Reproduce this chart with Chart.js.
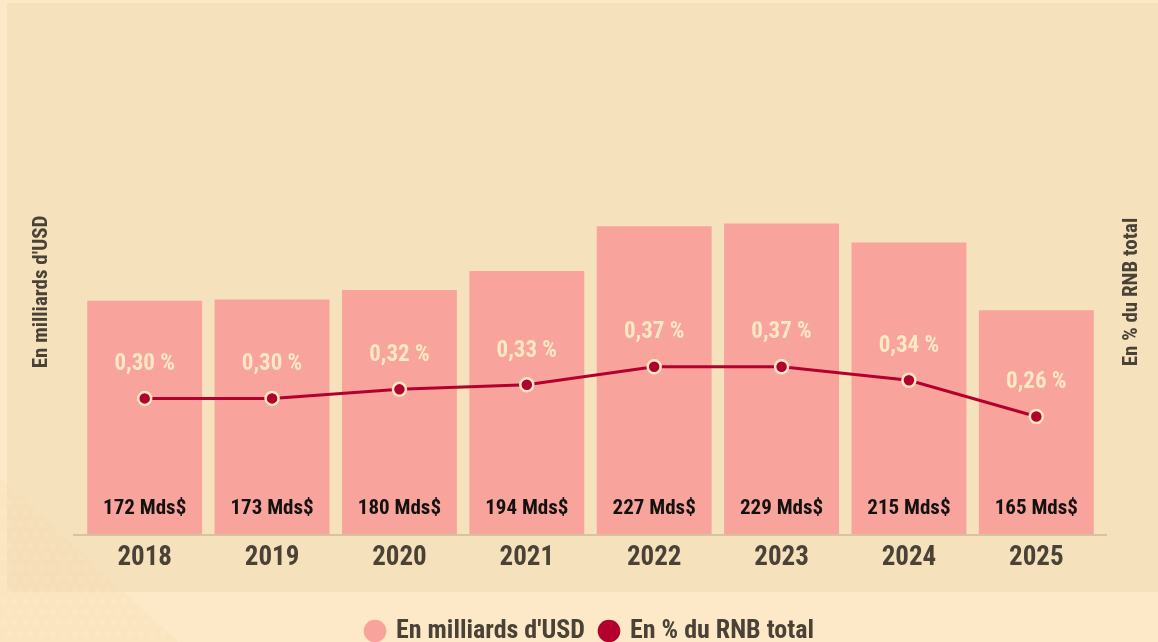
<!DOCTYPE html>
<html lang="fr">
<head>
<meta charset="utf-8">
<title>Aide publique au développement</title>
<script src="https://cdn.jsdelivr.net/npm/chart.js@4.4.1/dist/chart.umd.min.js"></script>
<style>
  html, body { margin: 0; padding: 0; background: #fde9c7; }
  #wrap { width: 1158px; height: 642px; position: relative; }
</style>
</head>
<body>
<div id="wrap"><canvas id="apdChart"></canvas></div>
<script>
// Data
const years = ["2018", "2019", "2020", "2021", "2022", "2023", "2024", "2025"];
const amountsUSD = [172, 173, 180, 194, 227, 229, 215, 165]; // milliards d'USD
const shareRNB = [0.30, 0.30, 0.32, 0.33, 0.37, 0.37, 0.34, 0.26]; // % du RNB
const amountLabels = ["172 Mds$", "173 Mds$", "180 Mds$", "194 Mds$", "227 Mds$", "229 Mds$", "215 Mds$", "165 Mds$"];
const shareLabels = ["0,30 %", "0,30 %", "0,32 %", "0,33 %", "0,37 %", "0,37 %", "0,34 %", "0,26 %"];

const FONT = "'Roboto Condensed', 'Open Sans', sans-serif";
const PINK = "#f8a39c";
const RED = "#b3002d";
const CREAM = "#fde8c4";
const INK = "#4a4237";

// background panel + faint dotted corner
const backdrop = {
  id: "backdrop",
  beforeDraw(chart) {
    const ctx = chart.ctx;
    ctx.save();
    ctx.fillStyle = "#fde9c7";
    ctx.fillRect(0, 0, chart.width, chart.height);
    ctx.fillStyle = "#f6e1bd";
    ctx.fillRect(7, 3, chart.width - 7, 589);
    // corner triangle
    ctx.beginPath();
    ctx.moveTo(0, 478);
    ctx.lineTo(0, chart.height);
    ctx.lineTo(178, chart.height);
    ctx.closePath();
    ctx.clip();
    ctx.fillStyle = "rgba(236, 205, 150, 0.12)";
    ctx.fillRect(0, 470, 200, 180);
    ctx.fillStyle = "rgba(255, 240, 210, 0.2)";
    for (let y = 480; y < chart.height; y += 11) {
      for (let x = ((y / 11) % 2) * 5.5; x < 200; x += 11) {
        ctx.beginPath();
        ctx.arc(x, y, 3.2, 0, Math.PI * 2);
        ctx.fill();
      }
    }
    ctx.restore();
  }
};

// baseline, value labels and axis titles
const overlay = {
  id: "overlay",
  beforeDatasetsDraw(chart) {
    const ctx = chart.ctx;
    const a = chart.chartArea;
    ctx.save();
    ctx.strokeStyle = "#d8c39f";
    ctx.lineWidth = 2;
    ctx.beginPath();
    ctx.moveTo(a.left - 8, a.bottom + 1);
    ctx.lineTo(a.right + 7, a.bottom + 1);
    ctx.stroke();
    ctx.restore();
  },
  afterDatasetsDraw(chart) {
    const ctx = chart.ctx;
    const a = chart.chartArea;
    const bars = chart.getDatasetMeta(1).data;
    const pts = chart.getDatasetMeta(0).data;
    ctx.save();
    ctx.textAlign = "center";
    ctx.textBaseline = "middle";
    ctx.font = "bold 21px " + FONT;
    ctx.fillStyle = "#141111";
    bars.forEach((b, i) => ctx.fillText(amountLabels[i], b.x, a.bottom - 25));
    ctx.font = "bold 23px " + FONT;
    ctx.fillStyle = CREAM;
    pts.forEach((p, i) => ctx.fillText(shareLabels[i], p.x, p.y - 34));

    ctx.font = "bold 21px " + FONT;
    ctx.fillStyle = INK;
    ctx.translate(42, 292);
    ctx.rotate(-Math.PI / 2);
    ctx.fillText("En milliards d'USD", 0, 0);
    ctx.restore();

    ctx.save();
    ctx.textAlign = "center";
    ctx.textBaseline = "middle";
    ctx.font = "bold 21px " + FONT;
    ctx.fillStyle = INK;
    ctx.translate(1132, 292);
    ctx.rotate(-Math.PI / 2);
    ctx.fillText("En % du RNB total", 0, 0);
    ctx.restore();
  }
};

const data = {
  labels: years,
  datasets: [
    {
      type: "line",
      label: "En % du RNB total",
      data: shareRNB,
      yAxisID: "y1",
      borderColor: RED,
      backgroundColor: RED,
      borderWidth: 3,
      tension: 0,
      pointRadius: 6.5,
      pointHoverRadius: 6.5,
      pointBackgroundColor: RED,
      pointBorderColor: CREAM,
      pointBorderWidth: 2.5,
      order: 0
    },
    {
      type: "bar",
      label: "En milliards d'USD",
      data: amountsUSD,
      yAxisID: "y",
      backgroundColor: PINK,
      barPercentage: 0.902,
      categoryPercentage: 1,
      order: 1
    }
  ]
};

const config = {
  data: data,
  options: {
    responsive: true,
    maintainAspectRatio: false,
    animation: false,
    layout: { padding: { left: 81, right: 58, top: 20, bottom: -12 } },
    scales: {
      x: {
        grid: { display: false, drawTicks: false },
        border: { display: false },
        ticks: { color: INK, font: { family: FONT, size: 27, weight: "bold" }, padding: 8 },
        afterFit(scale) { scale.height = 68; }
      },
      y: { display: false, min: 0, max: 379 },
      y1: { display: false, min: 0, max: 1.137, position: "right" }
    },
    plugins: {
      tooltip: { enabled: false },
      legend: {
        position: "bottom",
        reverse: true,
        labels: {
          color: INK,
          font: { family: FONT, size: 26, weight: "bold" },
          usePointStyle: true,
          pointStyle: "circle",
          boxWidth: 16,
          boxHeight: 16,
          padding: 16,
          generateLabels(chart) {
            return chart.data.datasets.map((ds, i) => ({
              text: ds.label,
              fillStyle: ds.type === "bar" ? PINK : RED,
              strokeStyle: ds.type === "bar" ? PINK : RED,
              lineWidth: 0,
              pointStyle: "circle",
              fontColor: INK,
              hidden: false,
              datasetIndex: i
            }));
          }
        }
      }
    }
  },
  plugins: [backdrop, overlay]
};

window.addEventListener("DOMContentLoaded", () => {
  new Chart(document.getElementById("apdChart"), config);
});
</script>
</body>
</html>
